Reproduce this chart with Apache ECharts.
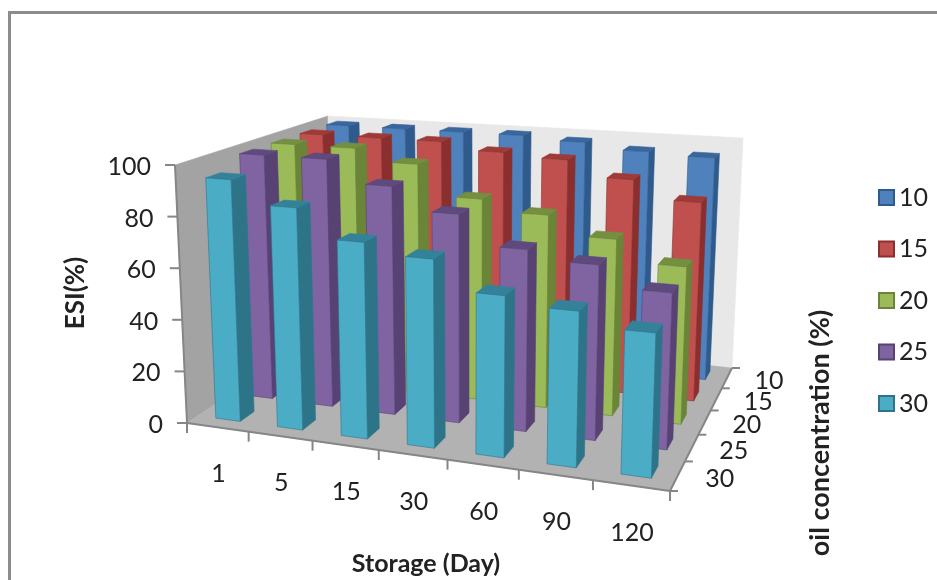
<!DOCTYPE html>
<html><head><meta charset="utf-8">
<style>html,body{margin:0;padding:0;background:#fff}#c{width:937px;height:580px}</style>
<script src="https://cdn.jsdelivr.net/npm/echarts@6/dist/echarts.min.js"></script>
</head><body><div id="c"></div>
<script>
const storageDays = ['1','5','15','30','60','90','120'];
const oilLevels = ['10','15','20','25','30'];
const valueTicks = [0,20,40,60,80,100];
const esi10 = [99,99,99,99,97.5,95,94];
const esi15 = [99,99,99,96,94.5,88,80.5];
const esi20 = [99,99,94,81.5,77,69.5,61];
const esi25 = [99,99,90,81,69.5,66,58];
const esi30 = [94,85,74,70,59,56,51];
const rows = [esi10,esi15,esi20,esi25,esi30];
const faces = [
 ['#4f81bd','#2f5a8c','#3a669e'],
 ['#c0504d','#8a2f2d','#9e3a38'],
 ['#9bbb59','#6a8438','#748f3f'],
 ['#8064a2','#574273','#5f4a7e'],
 ['#4bacc6','#2e7489','#33829a']
];
const FONT='Lato';
function homography(p){
  const [a0,a1,a2,a3]=p;
  const dx1=a1[0]-a2[0],dx2=a3[0]-a2[0],sx=a0[0]-a1[0]+a2[0]-a3[0];
  const dy1=a1[1]-a2[1],dy2=a3[1]-a2[1],sy=a0[1]-a1[1]+a2[1]-a3[1];
  const den=dx1*dy2-dx2*dy1;
  const g=(sx*dy2-dx2*sy)/den,h=(dx1*sy-sx*dy1)/den;
  const a=a1[0]-a0[0]+g*a1[0],b=a3[0]-a0[0]+h*a3[0],c=a0[0];
  const d=a1[1]-a0[1]+g*a1[1],e=a3[1]-a0[1]+h*a3[1],f=a0[1];
  return (u,v)=>{const w=g*u+h*v+1;return [(a*u+b*v+c)/w,(d*u+e*v+f)/w];};
}
// frame of the 3D box: front-left, front-right, back-right, back-left
const floorH = homography([[187,423],[670,491],[732,368],[334,325]]);
const ceilH  = homography([[175,165],[680,200],[743,138],[328,116]]);
const nx=storageDays.length,nz=oilLevels.length,ymax=100;
function P(x,y,z){
  const u=x/nx,v=z/nz,t=y/ymax;
  const a=floorH(u,v),b=ceilH(u,v);
  return [a[0]+(b[0]-a[0])*t,a[1]+(b[1]-a[1])*t];
}
const poly=(pts,fill,stroke)=>({type:'polygon',shape:{points:pts},style:{fill,stroke:stroke||fill,lineWidth:0.6}});
const line=(a,b,c,w)=>({type:'line',shape:{x1:a[0],y1:a[1],x2:b[0],y2:b[1]},style:{stroke:c||'#868686',lineWidth:w||2}});
const txt=(p,s,align)=>({type:'text',x:p[0],y:p[1],style:{text:s,fill:'#222',font:'25px '+FONT,textAlign:align||'center',textVerticalAlign:'middle'}});
const W=0.40,OFF=0.295,D=0.42,DOFF=0.31;
function barItem(rowIdx){
  return function(params,api){
    const i=api.value(0),v=api.value(1);
    const depth=nz-1-rowIdx;
    const x0=i+OFF,x1=x0+W,z0=depth+DOFF,z1=z0+D;
    const f=faces[rowIdx];
    return {type:'group',children:[
      poly([P(x1,0,z0),P(x1,0,z1),P(x1,v,z1),P(x1,v,z0)],f[1]),
      poly([P(x0,v,z0),P(x1,v,z0),P(x1,v,z1),P(x0,v,z1)],f[2]),
      poly([P(x0,0,z0),P(x1,0,z0),P(x1,v,z0),P(x0,v,z0)],f[0],f[1])
    ]};
  };
}
const off=(p,dx,dy)=>[p[0]+dx,p[1]+dy];
function frameItem(){
  const kids=[
    poly([P(0,0,0),P(0,ymax,0),P(0,ymax,nz),P(0,0,nz)],'#a3a3a3','#a3a3a3'),
    poly([P(0,0,nz),P(nx,0,nz),P(nx,ymax,nz),P(0,ymax,nz)],'#e8e8e8','#e8e8e8'),
    poly([P(0,0,0),P(nx,0,0),P(nx,0,nz),P(0,0,nz)],'#b2b2b2','#b2b2b2'),
    line(P(0,0,0),P(nx,0,0)),line(P(nx,0,0),P(nx,0,nz)),line(P(0,0,0),P(0,ymax,0))
  ];
  valueTicks.forEach(t=>{const p=P(0,t,0);kids.push(line(p,off(p,-10,0)));kids.push(txt(off(p,-24,2),String(t),'right'));});
  for(let i=0;i<=nx;i++){const p=P(i,0,0);kids.push(line(p,off(p,0,10)));}
  for(let k=0;k<=nz;k++){const p=P(nx,0,k);kids.push(line(p,off(p,8,0)));}
  storageDays.forEach((s,i)=>kids.push(txt(off(P(i+0.5,0,0),1,47),s)));
  oilLevels.forEach((s,k)=>kids.push(txt(off(P(nx,0,nz-k-0.5),42,3),s)));
  return {type:'group',children:kids};
}
const series=[{type:'custom',name:'frame',coordinateSystem:'none',silent:true,data:[[0]],renderItem:frameItem,z:1}];
oilLevels.forEach((name,r)=>series.push({
  type:'custom',name,coordinateSystem:'none',z:2+r,silent:true,
  itemStyle:{color:faces[r][0],borderColor:faces[r][1],borderWidth:1.5},
  data:rows[r].map((v,i)=>[i,v]),renderItem:barItem(r)
}));
const chart=echarts.init(document.getElementById('c'),null,{renderer:'canvas'});
const title=(x,y,s,size,rot)=>({type:'text',x,y,rotation:rot||0,style:{text:s,fill:'#222',font:'bold '+size+'px '+FONT,textAlign:'center',textVerticalAlign:'middle'}});
chart.setOption({
  animation:false,backgroundColor:'#fff',
  legend:{orient:'vertical',left:873,top:180,data:oilLevels,icon:'rect',itemWidth:15,itemHeight:15,itemGap:26.5,selectedMode:false,
    textStyle:{fontFamily:FONT,fontSize:25,color:'#222',padding:[0,0,0,0]}},
  graphic:[
    {type:'rect',shape:{x:9.5,y:12.5,width:1000,height:700},style:{fill:'none',stroke:'#8c8c8c',lineWidth:3},silent:true,z:0},
    title(426,564,'Storage (Day)',25),
    title(76,293,'ESI(%)',26,Math.PI/2),
    title(820,433,'oil concentration (%)',27,Math.PI/2)
  ],
  series
});
</script></body></html>
